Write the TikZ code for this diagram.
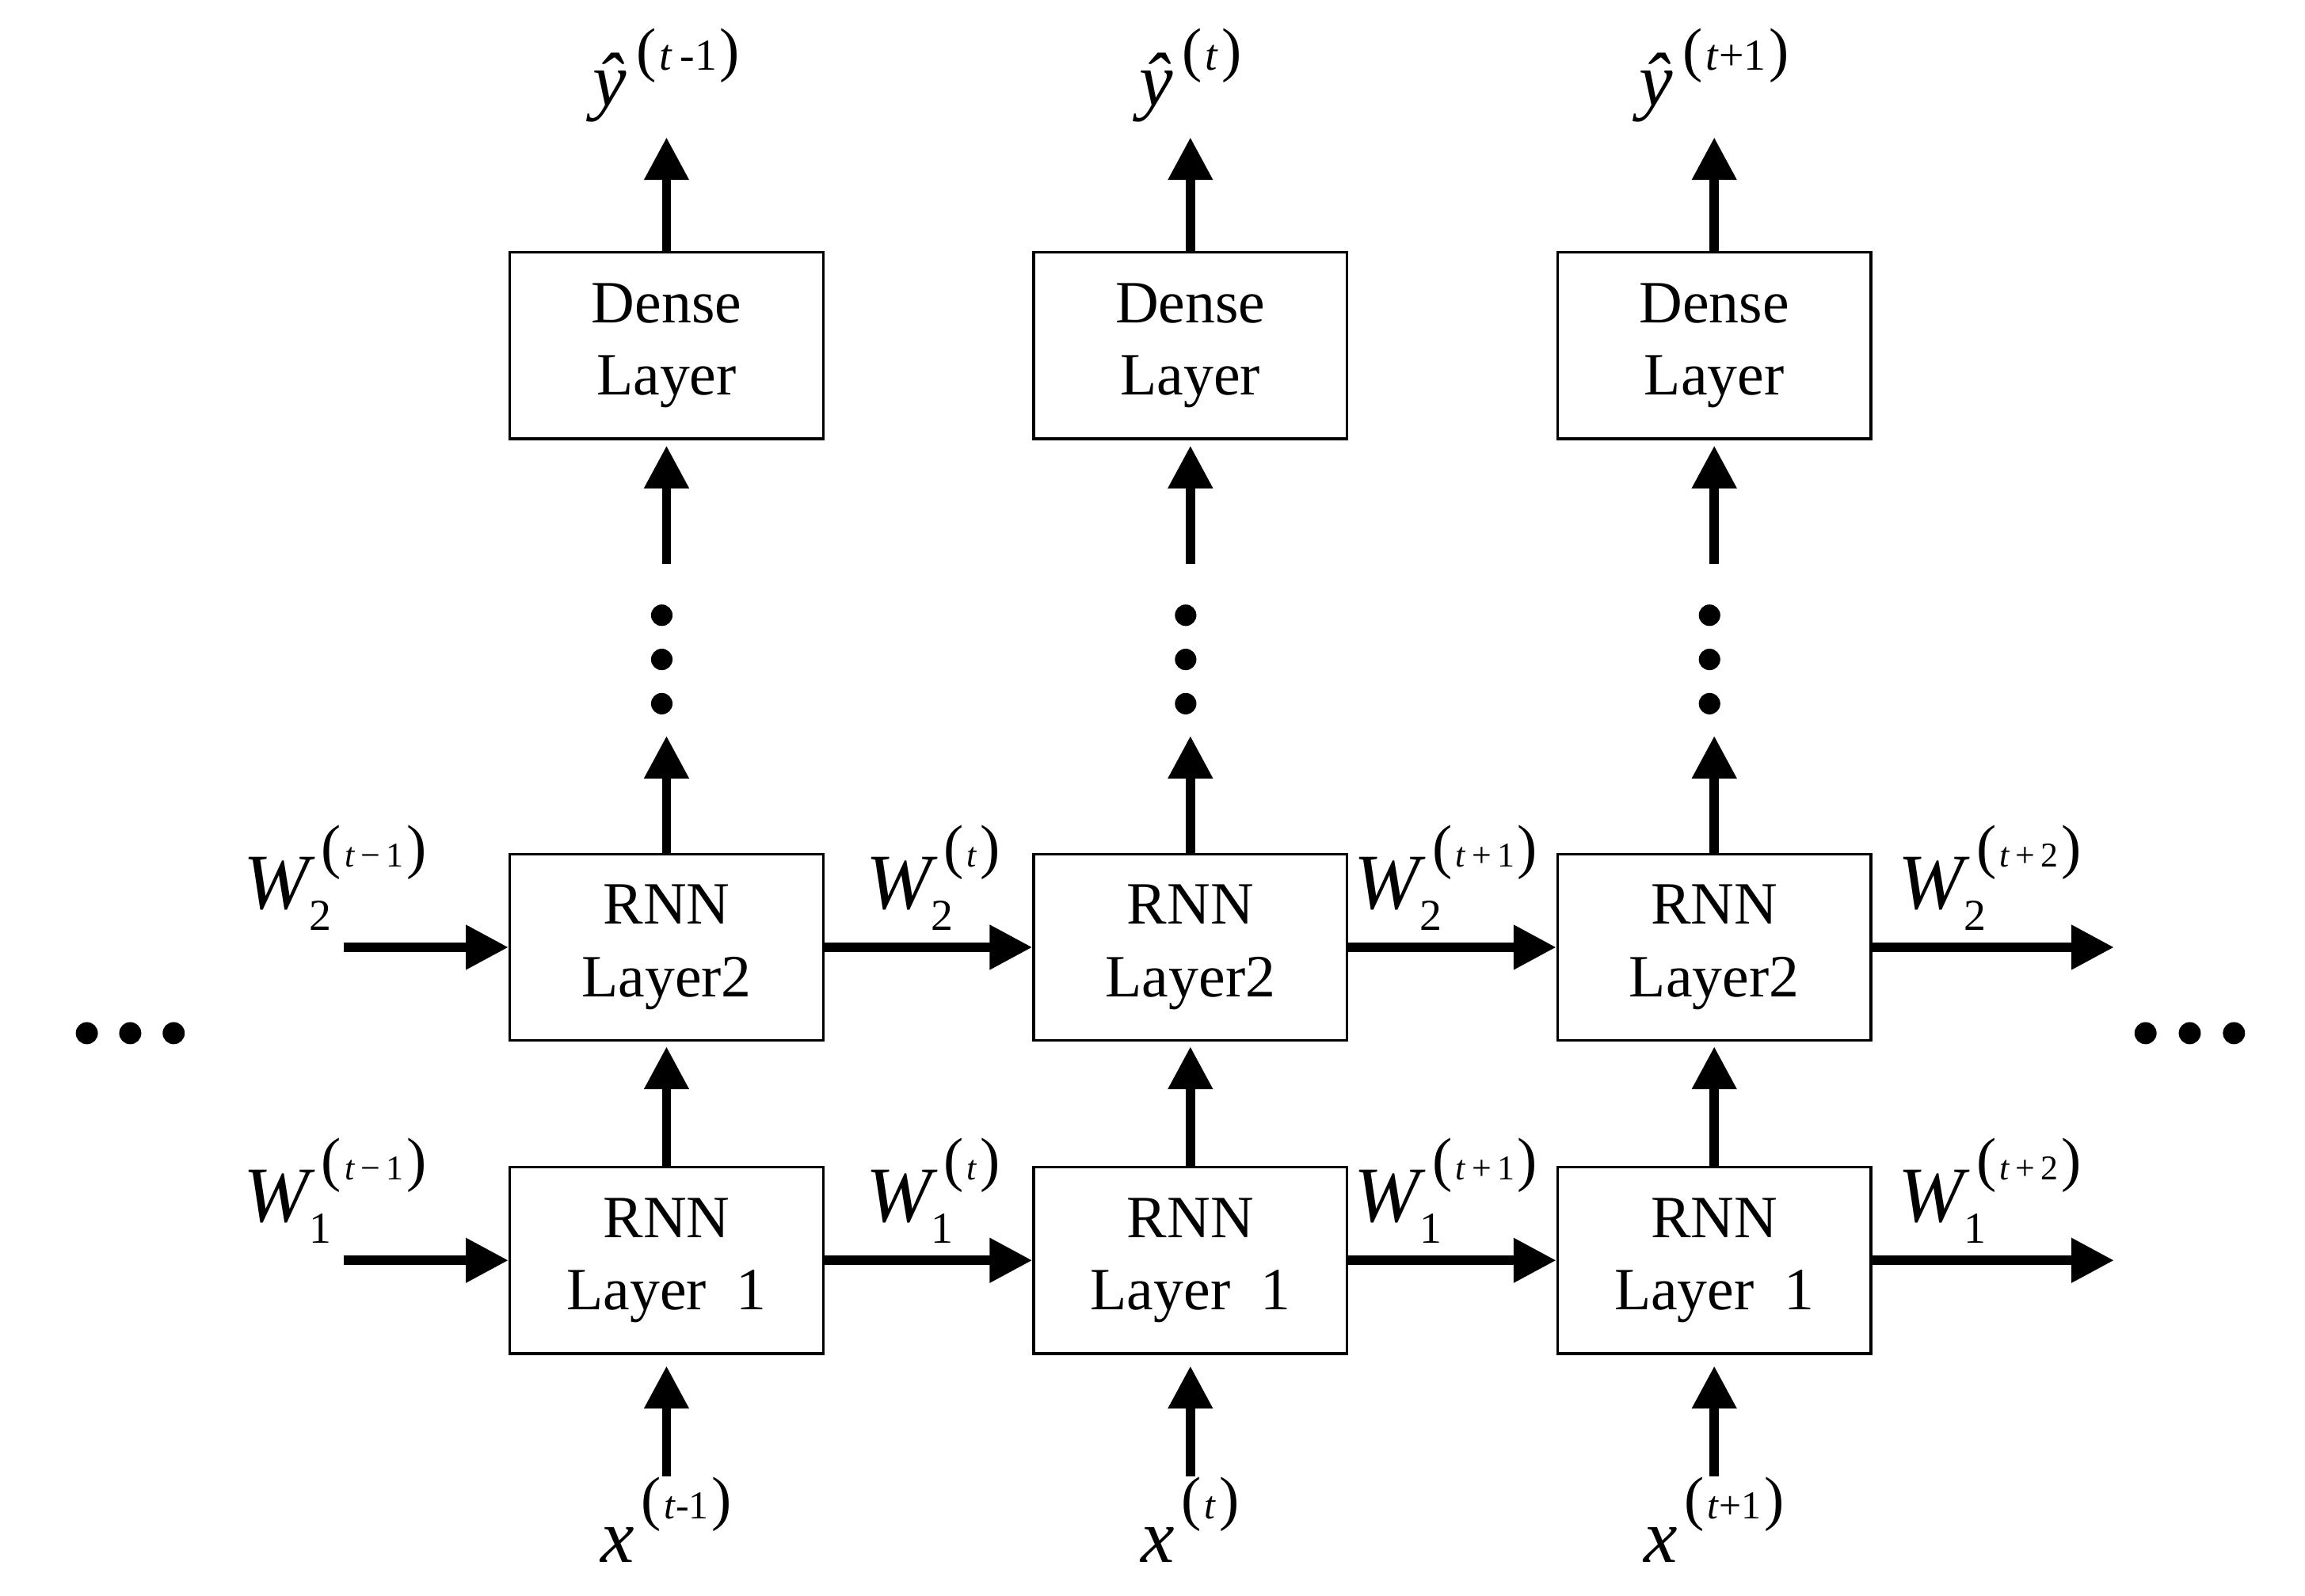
\documentclass[tikz,border=0pt]{standalone}
\usepackage{fontspec}
\setmainfont{Liberation Serif}
\usetikzlibrary{arrows.meta,calc,positioning}

\newcommand{\supp}[2]{{\fontsize{19}{19}\selectfont(}\kern1pt{\fontsize{#1}{#1}\selectfont #2}\kern1pt{\fontsize{19}{19}\selectfont)}}
\newcommand{\wlab}[2]{\textit{W}\kern-2pt\rlap{\raisebox{-6.75pt}{\fontsize{14}{14}\selectfont #1}}\kern4pt\raisebox{13.25pt}{\supp{11}{#2}}}
\newcommand{\xlab}[1]{\textit{x}\kern2pt\raisebox{13.75pt}{\supp{12.5}{#1}}}
\newcommand{\ylab}[1]{\textit{\^{y}}\kern3pt\raisebox{11.25pt}{\supp{14}{#1}}}

\tikzset{
  box/.style={draw=black, line width=0.9pt, minimum width=99.25pt, minimum height=59pt, align=center, inner sep=0pt, font=\fontsize{19}{23}\selectfont},
  flow/.style={line width=2.9pt, -{Triangle[length=13.5pt,width=13.5pt]}},
  dotcol/.style={inner sep=0pt, minimum width=1pt, minimum height=54pt},
  wlabel/.style={inner sep=0pt, font=\fontsize{25}{30}\selectfont},
  iolabel/.style={inner sep=0pt, font=\fontsize{24}{28}\selectfont}
}

\begin{document}
\begin{tikzpicture}
  % column t-1
  \node[box](R1a){RNN\\Layer~~1};
  \node[box, above=39.25pt of R1a](R2a){RNN\\Layer2};
  \node[dotcol, above=37pt of R2a](V1){};
  \node[box, above=39.25pt of V1](D1){Dense\\Layer};
  \node[iolabel, above=40.75pt of D1](Y1){\ylab{\textit{t}\,-1}};
  \node[iolabel, below=38.5pt of R1a](X1){\xlab{\textit{t}-1}};

  % column t
  \node[box, right=65.75pt of R1a](R1b){RNN\\Layer~~1};
  \node[box, above=39.25pt of R1b](R2b){RNN\\Layer2};
  \node[dotcol, above=37pt of R2b](V2){};
  \node[box, above=39.25pt of V2](D2){Dense\\Layer};
  \node[iolabel, above=40.75pt of D2](Y2){\ylab{\textit{t}}};
  \node[iolabel, below=38.5pt of R1b](X2){\xlab{\textit{t}}};

  % column t+1
  \node[box, right=65.75pt of R1b](R1c){RNN\\Layer~~1};
  \node[box, above=39.25pt of R1c](R2c){RNN\\Layer2};
  \node[dotcol, above=37pt of R2c](V3){};
  \node[box, above=39.25pt of V3](D3){Dense\\Layer};
  \node[iolabel, above=40.75pt of D3](Y3){\ylab{\textit{t}+1}};
  \node[iolabel, below=38.5pt of R1c](X3){\xlab{\textit{t}+1}};

  \coordinate[left=52.25pt of R1a](L1);
  \coordinate[left=52.25pt of R2a](L2);
  \coordinate[right=76.5pt of R1c](E1);
  \coordinate[right=76.5pt of R2c](E2);

  \path[flow]
  (L2) edge node[wlabel, above=4pt, xshift=-28.75pt]{\wlab{2}{\textit{t}\,−\,1}} (R2a)
  (R2a) edge node[wlabel, above=4pt, xshift=1.5pt]{\wlab{2}{\textit{t}}} (R2b)
  (R2b) edge node[wlabel, above=4pt, xshift=-2pt]{\wlab{2}{\textit{t}\,+\,1}} (R2c)
  (R2c) edge node[wlabel, above=4pt, xshift=-1pt]{\wlab{2}{\textit{t}\,+\,2}} (E2)
  (L1) edge node[wlabel, above=4pt, xshift=-28.75pt]{\wlab{1}{\textit{t}\,−\,1}} (R1a)
  (R1a) edge node[wlabel, above=4pt, xshift=1.5pt]{\wlab{1}{\textit{t}}} (R1b)
  (R1b) edge node[wlabel, above=4pt, xshift=-2pt]{\wlab{1}{\textit{t}\,+\,1}} (R1c)
  (R1c) edge node[wlabel, above=4pt, xshift=-1pt]{\wlab{1}{\textit{t}\,+\,2}} (E1);

  \path[flow]
  (X1) edge[shorten >=3.5pt] (R1a)
  (R1a) edge[shorten >=1.5pt] (R2a)
  (R2a) edge (V1)
  (V1) edge[shorten >=1.75pt] (D1)
  (D1) edge[shorten >=4.75pt] (Y1)
  (X2) edge[shorten >=3.5pt] (R1b)
  (R1b) edge[shorten >=1.5pt] (R2b)
  (R2b) edge (V2)
  (V2) edge[shorten >=1.75pt] (D2)
  (D2) edge[shorten >=4.75pt] (Y2)
  (X3) edge[shorten >=3.5pt] (R1c)
  (R1c) edge[shorten >=1.5pt] (R2c)
  (R2c) edge (V3)
  (V3) edge[shorten >=1.75pt] (D3)
  (D3) edge[shorten >=4.75pt] (Y3);

  % vertical dots
  \fill ($(V1)+(-1.5pt,11pt)$) circle (3.4pt) ($(V1)+(-1.5pt,-3pt)$) circle (3.4pt) ($(V1)+(-1.5pt,-17pt)$) circle (3.4pt);
  \fill ($(V2)+(-1.5pt,11pt)$) circle (3.4pt) ($(V2)+(-1.5pt,-3pt)$) circle (3.4pt) ($(V2)+(-1.5pt,-17pt)$) circle (3.4pt);
  \fill ($(V3)+(-1.5pt,11pt)$) circle (3.4pt) ($(V3)+(-1.5pt,-3pt)$) circle (3.4pt) ($(V3)+(-1.5pt,-17pt)$) circle (3.4pt);

  % side dots
  \fill ($(R2a.south west)+(-133.5pt,2.75pt)$) circle (3.5pt) ($(R2a.south west)+(-119.75pt,2.75pt)$) circle (3.5pt) ($(R2a.south west)+(-106pt,2.75pt)$) circle (3.5pt);
  \fill ($(R2c.south east)+(86.5pt,2.75pt)$) circle (3.5pt) ($(R2c.south east)+(100.5pt,2.75pt)$) circle (3.5pt) ($(R2c.south east)+(114.5pt,2.75pt)$) circle (3.5pt);

  \useasboundingbox ($(D1.north west)+(-161pt,79.5pt)$) rectangle ($(R1c.south east)+(137pt,-76.25pt)$);
\end{tikzpicture}
\end{document}
